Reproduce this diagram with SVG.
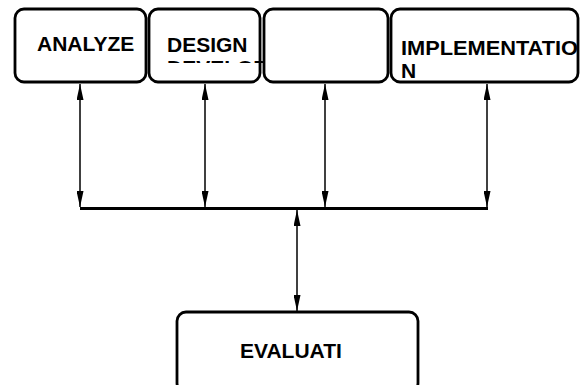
<svg xmlns="http://www.w3.org/2000/svg" width="588" height="385" viewBox="0 0 588 385">
<style>
.box{fill:#fff;stroke:#000;stroke-width:2.8}
.lbl{font-family:"Liberation Sans",Arial,sans-serif;font-weight:bold;font-size:21px;fill:#000}
.conn{stroke:#000;stroke-width:1.5;fill:none}
.bus{stroke:#000;stroke-width:2.8;fill:none}
</style>
<defs>
<marker id="ah" viewBox="0 0 16 7" refX="16" refY="3.5" markerWidth="16" markerHeight="7" markerUnits="userSpaceOnUse" orient="auto-start-reverse">
<path d="M0,0 L16,3.5 L0,7 Z" fill="#000"/>
</marker>
<clipPath id="clipDesign"><rect x="140" y="20" width="140" height="43"/></clipPath>
</defs>
<rect width="588" height="385" fill="#fff"/>
<g id="connectors">
<line class="bus" x1="80" y1="208.5" x2="488" y2="208.5"/>
<line class="conn" x1="80" y1="84" x2="80" y2="207" marker-start="url(#ah)" marker-end="url(#ah)"/>
<line class="conn" x1="205" y1="84" x2="205" y2="207" marker-start="url(#ah)" marker-end="url(#ah)"/>
<line class="conn" x1="325" y1="84" x2="325" y2="207" marker-start="url(#ah)" marker-end="url(#ah)"/>
<line class="conn" x1="487" y1="84" x2="487" y2="207" marker-start="url(#ah)" marker-end="url(#ah)"/>
<line class="conn" x1="297" y1="210" x2="297" y2="311" marker-start="url(#ah)" marker-end="url(#ah)"/>
</g>
<g id="analyze">
<rect class="box" x="15" y="9" width="131" height="73" rx="9"/>
<text class="lbl" x="37" y="51">ANALYZE</text>
</g>
<g id="design">
<rect class="box" x="149" y="9" width="111" height="73" rx="9"/>
<g clip-path="url(#clipDesign)">
<text class="lbl" x="167" y="52">DESIGN</text>
<text class="lbl" x="167" y="75">DEVELOP</text>
</g>
</g>
<g id="blank">
<rect class="box" x="264" y="9" width="124" height="73" rx="9"/>
</g>
<g id="implementation">
<rect class="box" x="391" y="9" width="187" height="73" rx="9"/>
<text class="lbl" x="401" y="55" textLength="177" lengthAdjust="spacingAndGlyphs">IMPLEMENTATIO</text>
<text class="lbl" x="401" y="78">N</text>
</g>
<g id="evaluation">
<rect class="box" x="177" y="312" width="241" height="80" rx="9"/>
<text class="lbl" x="240" y="358">EVALUATI</text>
</g>
</svg>
